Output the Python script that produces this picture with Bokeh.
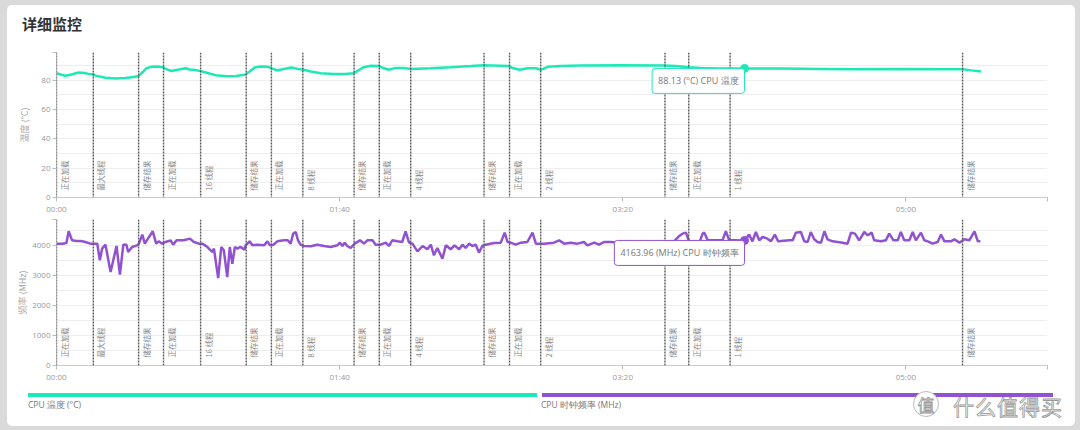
import numpy as np
from bokeh.plotting import figure
from bokeh.models import (Range1d, FixedTicker, SingleIntervalTicker, CustomJSTickFormatter,
                          Span, Label, Div, Spacer)
from bokeh.layouts import column, row
from bokeh.embed import file_html
from bokeh.resources import INLINE
from bokeh.core.properties import value

# ---------------- data ----------------
time_temp = [0, 1.4, 3.2, 5.3, 7.8, 9.9, 11.3, 13.0, 13.8, 17.3,
             20.8, 24.4, 27.2, 29.0, 30.4, 31.8, 33.6, 35.7, 37.5, 38.5,
             40.6, 42.8, 45.6, 47.0, 49.1, 50.9, 53.7, 56.2, 60.1, 63.6,
             66.8, 68.2, 70.0, 72.1, 74.6, 76.0, 78.1, 80.2, 83.0, 85.2,
             86.9, 89.8, 93.3, 97.9, 102.1, 104.9, 106.4, 108.5, 111.0, 113.8,
             115.5, 117.3, 119.8, 122.6, 125.1, 132.2, 139.2, 146.3, 150.9, 156.9,
             159.7, 161.1, 163.6, 166.4, 169.3, 171.0, 173.5, 178.1, 185.2, 199.3,
             214.5, 218.7, 223.3, 227.6, 232.2, 243.0, 255.8, 270.0, 280.6, 298.2,
             312.4, 320.1, 323.0, 326.5]
cpu_temp = [84.8, 84.0, 83.1, 84.0, 85.3, 85.0, 84.4, 84.0, 83.2, 81.8,
            81.2, 81.6, 82.3, 83.0, 85.5, 88.3, 89.3, 89.4, 89.0, 87.8,
            86.4, 87.2, 88.2, 87.4, 87.0, 86.3, 84.8, 83.5, 82.8, 83.0,
            84.0, 86.0, 88.8, 89.4, 89.3, 88.2, 86.7, 87.8, 88.8, 87.8,
            87.4, 86.0, 84.8, 84.3, 84.4, 84.8, 86.5, 89.0, 89.9, 89.8,
            88.4, 87.2, 88.5, 88.4, 87.8, 88.2, 88.9, 89.7, 90.3, 90.0,
            89.8, 88.4, 87.2, 88.3, 88.2, 87.2, 89.2, 89.8, 90.1, 90.3,
            90.2, 89.8, 89.0, 88.5, 88.2, 88.13, 88.0, 87.8, 87.6, 87.7,
            87.6, 87.5, 86.8, 86.0]

time_freq = [0, 2.1, 3.5, 4.3, 5.5, 7.1, 8.5, 9.9, 12.0, 14.4,
             15.3, 16.1, 17.3, 19.1, 21.2, 22.4, 23.6, 24.7, 25.3, 26.7,
             28.5, 29.1, 30.3, 31.2, 32.3, 34.0, 35.2, 36.1, 37.3, 38.5,
             40.3, 41.2, 42.4, 45.0, 47.1, 48.5, 50.3, 51.5, 53.3, 55.0,
             55.6, 57.1, 58.2, 59.1, 60.3, 61.2, 62.1, 63.0, 63.9, 64.8,
             65.6, 66.4, 66.8, 68.2, 69.2, 70.9, 73.3, 74.5, 75.4, 76.6,
             78.0, 80.3, 81.7, 82.7, 83.6, 84.5, 85.3, 86.2, 87.4, 89.8,
             92.1, 94.5, 96.8, 99.2, 100.1, 101.0, 101.8, 102.7, 103.9, 105.3,
             107.2, 108.6, 109.8, 111.6, 112.7, 114.5, 116.3, 117.4, 118.6, 120.4,
             122.1, 123.3, 124.5, 125.7, 127.5, 129.3, 131.0, 132.2, 133.3, 134.5,
             136.3, 137.5, 139.2, 140.6, 142.2, 143.4, 144.5, 145.7, 146.9, 148.1,
             149.2, 150.4, 151.6, 154.5, 156.9, 158.3, 159.3, 160.4, 162.2, 164.0,
             166.3, 168.1, 169.3, 170.4, 172.2, 175.7, 177.5, 179.3, 181.6, 184.0,
             186.3, 187.5, 189.9, 191.6, 193.4, 195.8, 199.3, 202.8, 206.4, 209.9,
             213.4, 215.5, 218.1, 219.8, 221.1, 222.3, 223.4, 227.2, 228.2, 228.8,
             230.0, 235.2, 236.4, 237.6, 239.3, 243.0, 244.6, 245.8, 247.0, 248.2,
             249.4, 251.1, 252.3, 253.7, 254.9, 258.8, 260.0, 261.1, 262.9, 264.1,
             265.3, 266.4, 267.6, 268.8, 270.0, 271.2, 272.3, 274.1, 275.9, 277.6,
             279.4, 280.6, 282.0, 283.5, 285.3, 286.5, 287.9, 288.8, 291.2, 292.9,
             294.1, 295.6, 297.1, 298.2, 299.4, 301.2, 302.4, 303.5, 305.3, 306.5,
             307.7, 309.4, 311.2, 312.4, 313.6, 315.9, 317.1, 318.9, 320.6, 322.4,
             324.2, 325.4, 326.3]
cpu_freq = [4056, 4056, 4080, 4467, 4167, 4144, 4144, 4120, 4056, 4056,
            3500, 3889, 4022, 3111, 3978, 3022, 4022, 4022, 3778, 3944,
            4000, 4056, 4356, 4056, 4222, 4467, 4056, 4133, 4056, 4111,
            4167, 4022, 4167, 4167, 4222, 4111, 4056, 4056, 3944, 3778,
            3889, 2911, 3944, 3833, 2944, 3944, 3389, 3944, 3889, 3944,
            3911, 3856, 4000, 4133, 4000, 4022, 4000, 4133, 4000, 4022,
            4133, 4167, 4167, 4056, 4389, 4444, 4167, 4022, 3978, 3967,
            4022, 3978, 3944, 4000, 4089, 3978, 4089, 3978, 3911, 4056,
            4167, 4056, 4167, 4167, 4022, 4022, 4089, 3978, 4167, 4133,
            4111, 4467, 4089, 4056, 3800, 3978, 3867, 4022, 3667, 3911,
            3556, 4000, 3867, 4000, 3867, 4022, 3911, 4056, 3978, 4022,
            3756, 3978, 4022, 4078, 4089, 4422, 4111, 4089, 4022, 4089,
            4111, 4422, 4056, 4056, 4056, 4089, 4167, 4056, 4089, 4056,
            4111, 4000, 4089, 4022, 4111, 4111, 4078, 4100, 4067, 4110,
            4089, 4133, 4133, 4300, 4389, 4422, 4133, 4133, 4389, 4422,
            4167, 4167, 4467, 4167, 4167, 4163.96, 4356, 4133, 4444, 4167,
            4278, 4222, 4133, 4356, 4133, 4167, 4167, 4422, 4444, 4133,
            4111, 4444, 4200, 4111, 4089, 4467, 4200, 4133, 4111, 4089,
            4056, 4422, 4389, 4167, 4444, 4333, 4422, 4167, 4133, 4167,
            4389, 4167, 4167, 4444, 4167, 4167, 4444, 4167, 4422, 4167,
            4133, 4056, 4111, 4356, 4133, 4133, 4200, 4089, 4200, 4167,
            4467, 4133, 4133]

event_times = [0, 13.0, 29.0, 37.8, 50.9, 67.0, 75.9, 87.0, 105.1,
               114.0, 125.1, 151.0, 160.0, 171.0, 214.9, 223.3, 237.9, 320.0]
event_labels = ["正在加载", "最大线程", "储存结果", "正在加载", "16 线程", "储存结果",
                "正在加载", "8 线程", "储存结果", "正在加载", "4 线程", "储存结果",
                "正在加载", "2 线程", "储存结果", "正在加载", "1 线程", "储存结果"]

x_ticks = [0, 100, 200, 300, 350]
temp_ticks = [0, 20, 40, 60, 80, 99]
freq_ticks = [0, 1000, 2000, 3000, 4000, 4860]

hover_time = 243.0
hover_temp = 88.13
hover_freq = 4163.96

assert len(time_temp) == len(cpu_temp)
assert len(time_freq) == len(cpu_freq)

# ---------------- style ----------------
TEAL = "#1de9b6"
PURPLE = "#9152d1"
LATIN = "Open Sans"
CJK = "Noto Sans CJK SC"
X_MAX = 350

x_fmt = CustomJSTickFormatter(code="""
if (tick > 340) return '';
const m = Math.floor(tick / 60), s = Math.round(tick % 60);
return String(m).padStart(2, '0') + ':' + String(s).padStart(2, '0');
""")


def make_panel(height, top, ymax, ticks, grid_step, axis_label, label_standoff,
               xs, ys, color, hover_val, hover_text, label_y_off):
    p = figure(width=1068, height=height, x_range=Range1d(0, X_MAX), y_range=Range1d(0, ymax),
               output_backend="svg", toolbar_location=None, title=None,
               min_border_left=49, min_border_right=28, min_border_top=top, min_border_bottom=20)
    p.outline_line_color = None
    p.background_fill_color = "white"
    p.border_fill_color = "white"
    p.xgrid.visible = False
    p.ygrid.ticker = SingleIntervalTicker(interval=grid_step)
    p.ygrid.grid_line_color = "#eeeeee"
    p.ygrid.grid_line_width = 1

    p.yaxis.ticker = FixedTicker(ticks=ticks)
    p.yaxis.formatter = CustomJSTickFormatter(code=f"return tick >= {ymax} ? '' : String(tick);")
    p.xaxis.ticker = FixedTicker(ticks=x_ticks)
    p.xaxis.formatter = x_fmt
    for ax in (p.xaxis[0], p.yaxis[0]):
        ax.axis_line_color = "#cccccc"
        ax.major_tick_line_color = "#bbbbbb"
        ax.major_tick_out = 4
        ax.major_tick_in = 0
        ax.minor_tick_line_color = None
        ax.major_label_text_color = "#999999"
        ax.major_label_text_font = LATIN
        ax.major_label_text_font_size = "8px"
        ax.major_label_standoff = 2
    p.xaxis.major_label_standoff = 1
    p.yaxis.axis_label = axis_label
    p.yaxis.axis_label_text_font = CJK
    p.yaxis.axis_label_text_font_size = "9px"
    p.yaxis.axis_label_text_font_style = "normal"
    p.yaxis.axis_label_text_color = "#aaaaaa"
    p.yaxis.axis_label_standoff = label_standoff

    for t in event_times:
        p.add_layout(Span(location=t, dimension="height", line_color="#5a5a5a",
                          line_dash="2 1", line_width=1.4))
    p.text(x=event_times, y=[0] * len(event_times), text=event_labels,
           angle=np.pi / 2, x_offset=2, y_offset=label_y_off,
           text_align="left", text_baseline="top",
           text_font=value(CJK), text_font_size="7.5px", text_color="#888888")

    p.line(xs, ys, line_color=color, line_width=2.5)
    p.scatter([hover_time], [hover_val], size=8, color=color)
    p.add_layout(Label(x=hover_time, y=hover_val, text=hover_text,
                       text_align="right", text_baseline="top",
                       x_offset=0, y_offset=0, padding=6, border_radius=3,
                       background_fill_color="white", border_line_color=color,
                       border_line_width=1, text_font=LATIN, text_font_size="9px",
                       text_color="#777777"))
    return p


p1 = make_panel(172, 7, 99, temp_ticks, 10, "温度 (°C)", 7, time_temp, cpu_temp,
                TEAL, hover_temp, f"{hover_temp} (°C) CPU 温度", -7)
p2 = make_panel(168, 2, 4860, freq_ticks, 500, "频率 (MHz)", 0, time_freq, cpu_freq,
                PURPLE, hover_freq, f"{hover_freq} (MHz) CPU 时钟频率", -8)

title_div = Div(text=f"<div style=\"padding:8px 0 0 15px;font-family:'{CJK}';font-weight:bold;"
                     "font-size:15px;color:#333;\">详细监控</div>",
                width=1068, height=40, margin=(0, 0, 0, 0))

legend_html = f"""
<div style="position:relative;width:1068px;height:41px;font-family:'{LATIN}';">
  <div style="position:absolute;left:21px;top:8px;width:509px;height:4px;background:{TEAL};"></div>
  <div style="position:absolute;left:535px;top:8px;width:511px;height:4px;background:{PURPLE};"></div>
  <div style="position:absolute;left:21px;top:14px;font-size:8.5px;color:#777;white-space:nowrap;">CPU 温度 (°C)</div>
  <div style="position:absolute;left:534px;top:14px;font-size:8.5px;color:#777;white-space:nowrap;">CPU 时钟频率 (MHz)</div>
  <div style="position:absolute;left:906px;top:6px;width:26px;height:26px;border:1.5px solid #bbb;border-radius:50%;
       background:#fff;font-family:'{CJK}';font-size:17px;color:#fff;-webkit-text-stroke:0.8px #999;
       text-align:center;line-height:26px;">值</div>
  <div style="position:absolute;left:946px;top:6px;font-family:'{CJK}';font-size:21px;color:#fff;
       -webkit-text-stroke:0.8px #999;white-space:nowrap;letter-spacing:1px;">什么值得买</div>
</div>
"""
legend_div = Div(text=legend_html, width=1068, height=41, margin=(0, 0, 0, 0))

card = column(title_div, p1, p2, legend_div, width=1068, height=421,
              styles={"background-color": "white", "border-radius": "5px"})
layout = column(Spacer(width=1080, height=5),
                row(Spacer(width=7, height=421), card, width=1080, height=421),
                width=1080, height=430, styles={"background-color": "#dadada"})

open("out.html", "w").write(file_html(layout, INLINE))
